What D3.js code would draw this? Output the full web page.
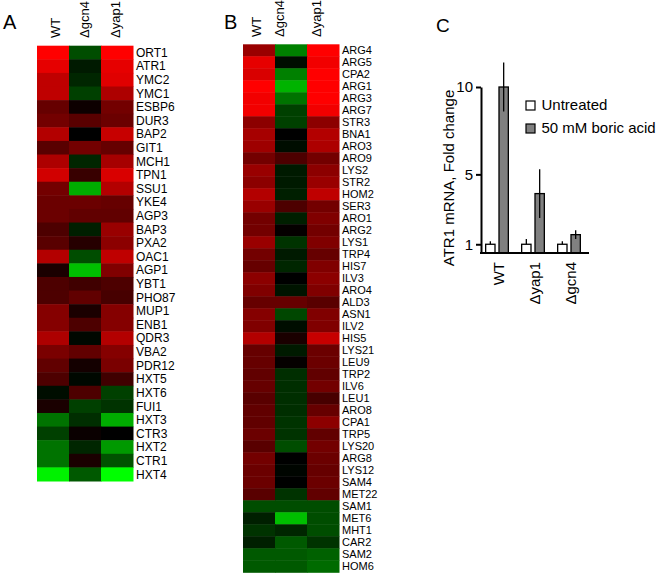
<!DOCTYPE html>
<html>
<head>
<meta charset="utf-8">
<script src="https://cdn.jsdelivr.net/npm/d3@7"></script>
<style>
    body { margin: 0; background: #fff; }
    svg { font-family: Arial, 'Liberation Sans', sans-serif; }
</style>
</head>
<body>
<div id="chart"></div>
<script>
// heatmap columns (same order for A and B)
var strains = ['WT', '\u0394gcn4', '\u0394yap1'];

// panel A: transporters, log-ratio colour value per strain (-1 green .. +1 red)
var genesA = ['ORT1', 'ATR1', 'YMC2', 'YMC1', 'ESBP6', 'DUR3', 'BAP2', 'GIT1', 'MCH1', 'TPN1',
    'SSU1', 'YKE4', 'AGP3', 'BAP3', 'PXA2', 'OAC1', 'AGP1', 'YBT1', 'PHO87', 'MUP1', 'ENB1',
    'QDR3', 'VBA2', 'PDR12', 'HXT5', 'HXT6', 'FUI1', 'HXT3', 'CTR3', 'HXT2', 'CTR1', 'HXT4'];
var valuesA = [
    [1.0, -0.3, 1.0], [0.9, -0.1, 0.9], [0.75, -0.15, 0.88], [0.75, -0.25, 0.68],
    [0.4, 0.05, 0.45], [0.45, 0.35, 0.42], [0.7, 0.0, 0.78], [0.35, 0.45, 0.4],
    [0.68, -0.15, 0.65], [0.82, 0.22, 0.85], [0.45, -0.68, 0.7], [0.42, 0.42, 0.4],
    [0.42, 0.38, 0.38], [0.3, -0.12, 0.6], [0.35, 0.15, 0.55], [0.7, -0.3, 0.75],
    [0.1, -0.75, 0.5], [0.3, 0.25, 0.3], [0.3, 0.38, 0.28], [0.52, 0.1, 0.52],
    [0.52, 0.3, 0.52], [0.68, -0.03, 0.7], [0.48, 0.38, 0.52], [0.38, 0.08, 0.48],
    [0.3, -0.03, 0.25], [-0.05, 0.3, -0.25], [0.1, -0.25, -0.2], [-0.45, -0.18, -0.68],
    [-0.25, 0.04, 0.0], [-0.45, -0.15, -0.6], [-0.45, 0.1, -0.32], [-0.95, -0.35, -1.0]
];

// panel B: amino acid biosynthesis genes
var genesB = ['ARG4', 'ARG5', 'CPA2', 'ARG1', 'ARG3', 'ARG7', 'STR3', 'BNA1', 'ARO3', 'ARO9',
    'LYS2', 'STR2', 'HOM2', 'SER3', 'ARO1', 'ARG2', 'LYS1', 'TRP4', 'HIS7', 'ILV3', 'ARO4',
    'ALD3', 'ASN1', 'ILV2', 'HIS5', 'LYS21', 'LEU9', 'TRP2', 'ILV6', 'LEU1', 'ARO8', 'CPA1',
    'TRP5', 'LYS20', 'ARG8', 'LYS12', 'SAM4', 'MET22', 'SAM1', 'MET6', 'MHT1', 'CAR2', 'SAM2', 'HOM6'];
var valuesB = [
    [0.6, -0.5, 1.0], [0.9, -0.05, 0.95], [0.85, -0.5, 1.0], [1.0, -0.7, 1.0],
    [0.95, -0.45, 1.0], [0.95, -0.25, 0.95], [0.55, -0.25, 0.55], [0.65, 0.0, 0.7],
    [0.62, -0.05, 0.68], [0.45, 0.3, 0.45], [0.6, -0.1, 0.55], [0.55, -0.1, 0.6],
    [0.7, -0.12, 0.75], [0.6, 0.3, 0.45], [0.45, -0.12, 0.5], [0.45, 0.02, 0.45],
    [0.6, -0.2, 0.5], [0.45, -0.1, 0.4], [0.4, -0.15, 0.5], [0.55, 0.0, 0.55],
    [0.5, -0.08, 0.5], [0.4, 0.4, 0.35], [0.52, -0.28, 0.5], [0.5, -0.05, 0.5],
    [0.7, 0.1, 0.78], [0.4, -0.1, 0.42], [0.4, 0.02, 0.42], [0.38, -0.18, 0.38],
    [0.4, -0.18, 0.45], [0.35, -0.18, 0.28], [0.38, -0.18, 0.4], [0.38, -0.2, 0.55],
    [0.42, -0.2, 0.38], [0.35, -0.3, 0.45], [0.45, 0.0, 0.42], [0.42, -0.02, 0.4],
    [0.42, 0.0, 0.42], [0.35, -0.2, 0.38], [-0.3, -0.3, -0.3], [-0.12, -0.75, -0.3],
    [-0.2, -0.15, -0.3], [-0.12, -0.35, -0.2], [-0.35, -0.35, -0.38], [-0.35, -0.35, -0.42]
];

// panel C: ATR1 mRNA fold change
var groupsC = ['WT', '\u0394yap1', '\u0394gcn4'];
var conditions = ['Untreated', '50 mM boric acid'];
var untreated = [1, 1, 1];
var untreatedErr = [0.17, 0.3, 0.17];
var boric = [10, 3.9, 1.55];
var boricErr = [1.4, 1.4, 0.25];
var yTicks = [1, 5, 10];

var width = 662, height = 576;
var svg = d3.select('#chart').append('svg')
    .attr('width', width)
    .attr('height', height);

var color = d3.scaleLinear()
    .domain([-1, 0, 1])
    .range(['#00ff00', '#000000', '#ff0000'])
    .clamp(true);

var panelLabel = function(text, x, y, size) {
    svg.append('text')
        .attr('x', x)
        .attr('y', y)
        .attr('font-size', size)
        .text(text);
};

var heatmap = function(opts) {
    var g = svg.append('g');
    var x = d3.scaleBand().domain(strains).range([opts.left, opts.left + 96]);
    var y = d3.scaleBand().domain(opts.genes).range([opts.top, opts.bottom]);

    var rows = g.selectAll('g.row').data(opts.values).enter()
        .append('g')
        .attr('class', 'row');

    rows.selectAll('rect')
        .data(function(d, i) {
            return d.map(function(v, j) {
                return {gene: opts.genes[i], strain: strains[j], v: v};
            });
        }).enter()
        .append('rect')
        .attr('x', function(d) { return x(d.strain); })
        .attr('y', function(d) { return y(d.gene); })
        .attr('width', x.bandwidth() + 0.5)
        .attr('height', y.bandwidth() + 0.5)
        .attr('fill', function(d) { return color(d.v); });

    g.selectAll('text.gene').data(opts.genes).enter()
        .append('text')
        .attr('class', 'gene')
        .attr('x', opts.left + 99)
        .attr('y', function(d) { return y(d) + y.bandwidth() / 2; })
        .attr('dy', '0.36em')
        .attr('font-size', opts.labelSize)
        .text(function(d) { return d; });

    g.selectAll('text.strain').data(strains).enter()
        .append('text')
        .attr('class', 'strain')
        .attr('transform', function(d, i) {
            return 'translate(' + (x(d) + x.bandwidth() / 2 + opts.headShift[i]) + ',' + opts.headBase + ') rotate(-90)';
        })
        .attr('dy', '0.36em')
        .attr('font-size', 13)
        .text(function(d) { return d; });
};

panelLabel('A', 3, 29, 20);
heatmap({
    genes: genesA, values: valuesA,
    left: 37, top: 45.7, bottom: 481,
    labelSize: 12, headBase: 38, headShift: [2, -1, -2]
});

panelLabel('B', 224, 28.5, 20);
heatmap({
    genes: genesB, values: valuesB,
    left: 243, top: 44.3, bottom: 572.3,
    labelSize: 11, headBase: 37, headShift: [-3, -12, -7]
});

// ---- panel C bar chart ----
panelLabel('C', 436, 32, 19);

var c = svg.append('g');
var y = d3.scaleLinear().domain([0.5, 10]).range([253, 87]);
var x0 = d3.scaleBand().domain(groupsC).range([479, 587])
    .paddingInner(0.37).paddingOuter(0.185);
var x1 = d3.scaleBand().domain(conditions).range([0, x0.bandwidth()]).paddingInner(0.3);

var bars = groupsC.map(function(gname, i) {
    return [
        {group: gname, cond: conditions[0], v: untreated[i], e: untreatedErr[i]},
        {group: gname, cond: conditions[1], v: boric[i], e: boricErr[i]}
    ];
});
var flat = d3.merge(bars);
var barX = function(d) { return x0(d.group) + x1(d.cond); };

var drawBars = function(data, fill) {
    c.selectAll(null).data(data).enter()
        .append('rect')
        .attr('x', barX)
        .attr('y', function(d) { return y(d.v); })
        .attr('width', x1.bandwidth())
        .attr('height', function(d) { return y(0.5) - y(d.v); })
        .attr('fill', fill)
        .attr('stroke', '#000')
        .attr('stroke-width', 1.3);
};

drawBars(flat.filter(function(d) { return d.cond === conditions[1]; }), '#808080');

c.selectAll('line.err').data(flat).enter()
    .append('line')
    .attr('class', 'err')
    .attr('x1', function(d) { return barX(d) + x1.bandwidth() / 2; })
    .attr('x2', function(d) { return barX(d) + x1.bandwidth() / 2; })
    .attr('y1', function(d) { return y(d.v - d.e); })
    .attr('y2', function(d) { return y(d.v + d.e); })
    .attr('stroke', '#000')
    .attr('stroke-width', 1.3);

drawBars(flat.filter(function(d) { return d.cond === conditions[0]; }), '#fff');

// axes
var yAxis = c.append('g')
    .attr('transform', 'translate(481,0)')
    .call(d3.axisLeft(y).tickValues(yTicks).tickSize(5).tickSizeOuter(0).tickPadding(3));
yAxis.select('.domain').attr('stroke-width', 2);
yAxis.selectAll('.tick line').attr('stroke-width', 2);
yAxis.selectAll('.tick text')
    .attr('font-size', 15)
    .attr('font-family', 'Arial, Liberation Sans, sans-serif')
    .attr('fill', '#000');

c.append('line')
    .attr('x1', 480)
    .attr('x2', 589)
    .attr('y1', y(0.5))
    .attr('y2', y(0.5))
    .attr('stroke', '#000')
    .attr('stroke-width', 2);

c.selectAll('text.grp').data(groupsC).enter()
    .append('text')
    .attr('class', 'grp')
    .attr('transform', function(d) {
        return 'translate(' + (x0(d) + x0.bandwidth() / 2 + 2) + ',262) rotate(-90)';
    })
    .attr('text-anchor', 'end')
    .attr('dy', '0.36em')
    .attr('font-size', 15)
    .text(function(d) { return d; });

c.append('text')
    .attr('transform', 'translate(449,178) rotate(-90)')
    .attr('text-anchor', 'middle')
    .attr('dy', '0.36em')
    .attr('font-size', 15)
    .text('ATR1 mRNA, Fold change');

// legend
var legend = c.selectAll('g.legend').data(conditions).enter()
    .append('g')
    .attr('class', 'legend')
    .attr('transform', function(d, i) { return 'translate(526,' + (101 + i * 23) + ')'; });
legend.append('rect')
    .attr('width', 9)
    .attr('height', 9)
    .attr('fill', function(d, i) { return i ? '#808080' : '#fff'; })
    .attr('stroke', '#000')
    .attr('stroke-width', 1.2);
legend.append('text')
    .attr('x', 15.5)
    .attr('y', 8.5)
    .attr('font-size', 15)
    .text(function(d) { return d; });
</script>
</body>
</html>
